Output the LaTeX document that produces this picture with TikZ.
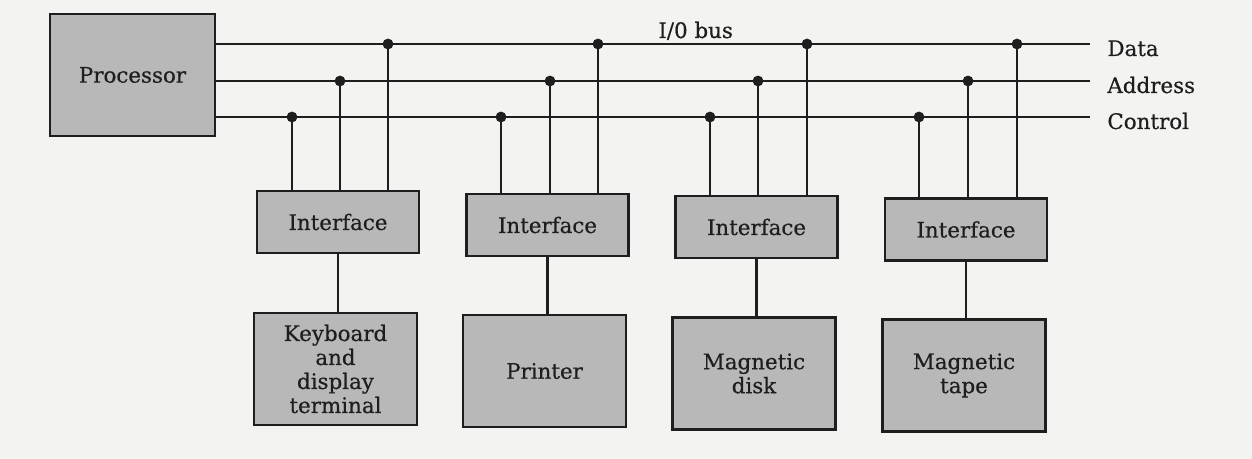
\documentclass[tikz,border=0pt]{standalone}
\usepackage{fontspec}
\setmainfont{DejaVu Serif}[BoldFont=DejaVu Serif, BoldFeatures={FakeBold=0.5}]
\definecolor{boxfill}{RGB}{184,184,184}
\definecolor{ink}{RGB}{30,30,30}
\definecolor{paper}{RGB}{243,243,241}
\begin{document}
\begin{tikzpicture}[x=0.5pt,y=-0.5pt,
  every node/.style={font=\fontsize{10.7}{12}\selectfont\bfseries, text=ink},
  blk/.style={draw=ink, line width=1.35pt, fill=boxfill, inner sep=0pt, align=center},
  procbox/.style={blk, minimum width=82.5pt, minimum height=61pt},
  ifbox/.style={blk, minimum width=81pt, minimum height=31pt},
  devbox/.style={blk, minimum width=81.5pt, minimum height=56pt},
  wire/.style={draw=ink, line width=1.3pt},
  tap/.style={fill=ink},
  lbl/.style={anchor=base west, inner sep=0pt}]
\fill[paper] (0,0) rectangle (1252,459);
\useasboundingbox (0,0) rectangle (1252,459);

% processor
\node[procbox] (proc) at (132.5,75) {Processor};

% interfaces
\node[ifbox] (if1) at (338,222) {Interface};
\node[ifbox] (if2) at (547.5,225) {Interface};
\node[ifbox] (if3) at (756.5,227) {Interface};
\node[ifbox] (if4) at (966,229.5) {Interface};

% devices
\node[devbox] (dev1) at (335.5,369) {Keyboard\\and\\display\\terminal};
\node[devbox] (dev2) at (544.5,371) {Printer};
\node[devbox] (dev3) at (754,373.5) {Magnetic\\disk};
\node[devbox] (dev4) at (964,375.5) {Magnetic\\tape};

% bus ends
\coordinate (dataR) at (1090,44);
\coordinate (addrR) at (1090,81);
\coordinate (ctrlR) at (1090,117);

\draw[wire] (proc.east |- dataR) -- (dataR);
\draw[wire] (proc.east |- addrR) -- (addrR);
\draw[wire] (proc.east |- ctrlR) -- (ctrlR);

% labels
\node[lbl] (ldata) at (1107,56) {Data};
\node[lbl] (laddr) at (1107,93) {Address};
\node[lbl] (lctrl) at (1107,129) {Control};
\node[lbl] (lbus) at (658,38) {I/0 bus};

% taps: control, address, data for each interface
\foreach \i/\c/\a/\d in {1/292/340/388, 2/501/550/598, 3/710/758/807, 4/919/968/1017} {
  \coordinate (c\i) at (\c,117);
  \coordinate (a\i) at (\a,81);
  \coordinate (d\i) at (\d,44);
  \draw[wire] (c\i) -- (c\i |- if\i.north);
  \draw[wire] (a\i) -- (a\i |- if\i.north);
  \draw[wire] (d\i) -- (d\i |- if\i.north);
  \fill[tap] (c\i) circle[radius=2.7pt];
  \fill[tap] (a\i) circle[radius=2.7pt];
  \fill[tap] (d\i) circle[radius=2.7pt];
}

% interface to device
\foreach \i in {1,2,3,4} {
  \draw[wire] (if\i.south) -- (if\i.south |- dev\i.north);
}
\end{tikzpicture}
\end{document}
